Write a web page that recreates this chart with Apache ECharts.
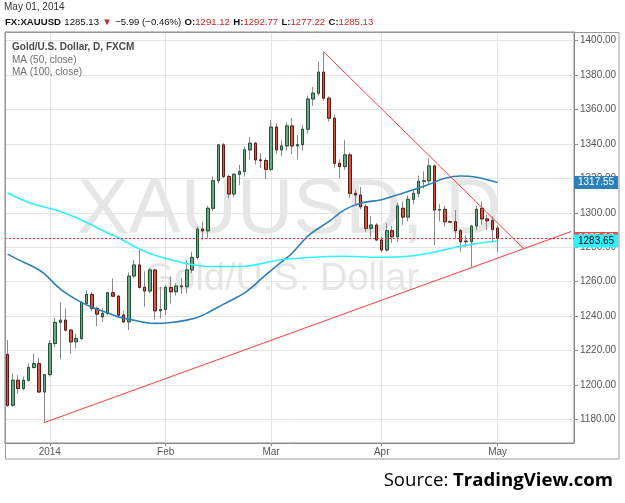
<!DOCTYPE html>
<html>
<head>
<meta charset="utf-8">
<script src="https://cdn.jsdelivr.net/npm/echarts@6/dist/echarts.min.js"></script>
<style>
  html, body { margin: 0; padding: 0; background: #fff; }
  #chart { width: 625px; height: 503px; }
</style>
</head>
<body>
<div id="chart"></div>
<script>
// daily bars, FXCM XAUUSD
var dates = [
  '2013-12-19','2013-12-20','2013-12-23','2013-12-24','2013-12-26','2013-12-27','2013-12-30','2013-12-31',
  '2014-01-02','2014-01-03','2014-01-06','2014-01-07','2014-01-08','2014-01-09','2014-01-10',
  '2014-01-13','2014-01-14','2014-01-15','2014-01-16','2014-01-17',
  '2014-01-20','2014-01-21','2014-01-22','2014-01-23','2014-01-24',
  '2014-01-27','2014-01-28','2014-01-29','2014-01-30','2014-01-31',
  '2014-02-03','2014-02-04','2014-02-05','2014-02-06','2014-02-07',
  '2014-02-10','2014-02-11','2014-02-12','2014-02-13','2014-02-14',
  '2014-02-17','2014-02-18','2014-02-19','2014-02-20','2014-02-21',
  '2014-02-24','2014-02-25','2014-02-26','2014-02-27','2014-02-28',
  '2014-03-03','2014-03-04','2014-03-05','2014-03-06','2014-03-07',
  '2014-03-10','2014-03-11','2014-03-12','2014-03-13','2014-03-14',
  '2014-03-17','2014-03-18','2014-03-19','2014-03-20','2014-03-21',
  '2014-03-24','2014-03-25','2014-03-26','2014-03-27','2014-03-28',
  '2014-03-31','2014-04-01','2014-04-02','2014-04-03','2014-04-04',
  '2014-04-07','2014-04-08','2014-04-09','2014-04-10','2014-04-11',
  '2014-04-14','2014-04-15','2014-04-16','2014-04-17','2014-04-18',
  '2014-04-21','2014-04-22','2014-04-23','2014-04-24','2014-04-25',
  '2014-04-28','2014-04-29','2014-04-30','2014-05-01'
];
// empty space to the right of the last bar
var futureDates = [
  '2014-05-02','2014-05-05','2014-05-06','2014-05-07','2014-05-08','2014-05-09',
  '2014-05-12','2014-05-13','2014-05-14','2014-05-15','2014-05-16',
  '2014-05-19','2014-05-20','2014-05-21'
];

var opens = [
  1217.8,1188.3,1202.8,1198.0,1202.8,1210.2,1212.5,1196.0,
  1206.1,1224.1,1236.4,1237.7,1231.9,1225.1,1227.0,
  1247.4,1252.6,1244.5,1239.6,1241.6,
  1253.6,1251.6,1240.6,1236.7,1263.3,
  1269.7,1256.7,1254.6,1266.8,1243.1,
  1243.9,1256.7,1254.2,1257.5,1257.1,
  1266.8,1274.1,1290.5,1289.5,1302.6,
  1318.6,1339.4,1321.0,1310.9,1322.3,
  1323.9,1336.5,1340.3,1330.7,1330.3,
  1325.2,1349.7,1336.5,1338.8,1350.4,
  1338.8,1339.5,1348.5,1366.0,1369.4,
  1381.6,1366.5,1354.9,1328.7,1326.8,
  1333.6,1311.3,1310.3,1303.5,1291.0,
  1292.9,1284.2,1278.4,1289.6,1286.1,
  1302.6,1297.5,1307.8,1311.3,1318.3,
  1318.5,1327.2,1301.6,1302.0,1294.8,
  1294.8,1289.6,1283.2,1283.2,1292.3,
  1302.6,1296.4,1295.4,1291.12
];
var highs = [
  1226.1,1206.7,1205.8,1205.0,1212.5,1218.3,1216.0,1206.5,
  1226.0,1239.0,1248.0,1244.5,1232.5,1229.9,1248.7,
  1255.1,1254.0,1245.5,1244.5,1254.2,
  1261.9,1252.5,1243.1,1265.4,1272.6,
  1278.4,1266.0,1268.0,1267.5,1257.1,
  1258.0,1262.9,1259.0,1262.0,1272.6,
  1277.4,1292.0,1295.0,1304.0,1321.0,
  1340.0,1340.5,1322.0,1323.0,1327.8,
  1338.4,1343.9,1341.0,1334.6,1332.0,
  1353.9,1352.0,1342.0,1352.5,1355.0,
  1345.0,1351.0,1368.0,1373.0,1387.8,
  1393.2,1367.5,1357.0,1331.0,1342.3,
  1335.0,1313.5,1315.0,1305.0,1298.0,
  1294.0,1286.0,1294.0,1292.5,1306.0,
  1306.5,1310.0,1313.0,1321.5,1324.0,
  1331.5,1328.0,1305.0,1304.0,1295.5,
  1301.6,1290.5,1287.0,1293.0,1304.0,
  1306.5,1299.0,1298.0,1292.77
];
var lows = [
  1187.3,1187.3,1195.1,1197.0,1202.0,1209.6,1195.5,1178.0,
  1205.0,1222.0,1215.0,1231.0,1218.3,1221.2,1226.0,
  1247.0,1243.0,1234.2,1236.7,1240.5,
  1251.0,1240.0,1236.2,1231.9,1262.0,
  1256.0,1245.5,1253.5,1238.1,1238.7,
  1240.6,1247.4,1252.0,1253.0,1253.2,
  1265.0,1273.0,1284.0,1285.0,1301.0,
  1317.0,1320.0,1308.4,1309.0,1316.0,
  1321.0,1330.7,1328.0,1325.8,1319.5,
  1324.0,1334.0,1333.0,1336.0,1334.0,
  1331.0,1336.0,1346.0,1362.0,1368.0,
  1365.0,1353.0,1326.0,1320.0,1325.0,
  1308.4,1305.0,1302.0,1289.0,1286.0,
  1283.5,1277.0,1277.5,1282.5,1283.0,
  1293.0,1295.0,1305.0,1309.0,1314.0,
  1316.0,1281.3,1295.0,1292.0,1294.0,
  1285.0,1277.5,1280.0,1268.7,1290.0,
  1293.0,1290.0,1283.0,1277.22
];
var closes = [
  1188.3,1202.8,1198.0,1202.8,1210.2,1212.5,1196.0,1206.1,
  1224.1,1236.4,1237.7,1231.9,1225.1,1227.0,1248.0,
  1252.6,1244.5,1241.2,1241.6,1253.6,
  1251.6,1240.6,1236.7,1263.3,1269.7,
  1256.7,1254.6,1266.8,1243.1,1243.9,
  1256.7,1254.2,1257.5,1257.1,1266.8,
  1274.1,1290.5,1289.5,1302.6,1318.6,
  1339.4,1321.0,1310.9,1322.3,1323.9,
  1336.5,1340.3,1330.7,1330.3,1325.2,
  1349.7,1336.5,1338.8,1350.4,1338.8,
  1339.5,1348.5,1366.0,1369.4,1381.6,
  1366.5,1354.9,1328.7,1326.8,1333.6,
  1311.3,1310.3,1303.5,1291.0,1292.9,
  1284.2,1278.4,1289.6,1286.1,1304.0,
  1297.5,1307.8,1311.3,1318.3,1318.5,
  1327.2,1301.6,1301.8,1294.8,1294.6,
  1289.6,1283.2,1283.6,1292.3,1302.0,
  1296.4,1295.4,1290.4,1285.13
];

// moving averages: [bar index, value]
var ma50 = [
  [0,1276.0],[2,1272.8],[5,1268.5],[7,1264.5],[9,1258.5],[11,1253.5],[14,1248.0],
  [16,1245.2],[19,1241.8],[21,1239.6],[24,1237.6],[26,1236.4],[28,1235.8],[31,1236.3],
  [34,1237.7],[36,1239.2],[38,1242.0],[41,1247.0],[45,1253.5],[47,1258.5],[49,1264.0],
  [52,1271.5],[54,1276.5],[57,1286.5],[61,1295.0],[64,1301.8],[67,1305.5],[71,1307.6],
  [73,1309.4],[76,1312.3],[80,1316.5],[83,1320.0],[86,1321.3],[89,1320.6],[93,1317.55]
];
var ma100 = [
  [0,1311.5],[4,1306.0],[10,1300.7],[14,1295.8],[19,1288.3],[21,1285.5],[25,1279.0],
  [29,1274.3],[34,1270.5],[38,1268.8],[45,1269.0],[51,1272.3],[57,1274.0],[64,1274.8],
  [70,1274.2],[76,1274.8],[80,1276.5],[83,1278.6],[86,1280.6],[89,1282.2],[93,1283.65]
];

// hand drawn trend lines: [bar index, price]
var supportLine = [[7,1178.3],[107,1289.2]];
var resistanceLine = [[60,1393.3],[98,1279.0]];

var tickDates = ['2014-01-02','2014-02-03','2014-03-03','2014-04-01','2014-05-01'];
var tickLabels = ['2014','Feb','Mar','Apr','May'];

var lastClose = 1285.13;
var lastMa50 = 1317.55;
var lastMa100 = 1283.65;

var FONT = "'Liberation Sans', Arial, sans-serif";

var allDates = dates.concat(futureDates);
var wickData = [];
var bodyData = [];
for (var i = 0; i < dates.length; i++) {
  wickData.push([opens[i], closes[i], lows[i], highs[i]]);
  bodyData.push([opens[i], closes[i], Math.min(opens[i], closes[i]), Math.max(opens[i], closes[i])]);
}

function isTick(index, value) {
  return tickDates.indexOf(value) >= 0;
}

// price tag on the right axis, no visible line
function priceLabel(value, bg, fg) {
  return {
    silent: true,
    symbol: 'none',
    lineStyle: { color: 'rgba(0,0,0,0)', width: 1, opacity: 1 },
    data: [{ yAxis: value }],
    label: {
      show: true, position: 'end', distance: 0, opacity: 1,
      formatter: value.toFixed(2),
      backgroundColor: bg, color: fg,
      fontFamily: FONT, fontSize: 10, lineHeight: 11,
      padding: [1, 4, 1, 4]
    }
  };
}

var chart = echarts.init(document.getElementById('chart'), null, { renderer: 'canvas' });

var last = dates.length - 1;

chart.setOption({
  animation: false,
  backgroundColor: '#ffffff',
  textStyle: { fontFamily: FONT },
  grid: {
    left: 5, right: 51, top: 32, bottom: 60,
    show: true, borderColor: '#8a8a8a', borderWidth: 1,
    containLabel: false, outerBoundsMode: 'none'
  },
  xAxis: {
    type: 'category',
    data: allDates,
    boundaryGap: true,
    axisLine: { show: true, lineStyle: { color: '#8a8a8a' } },
    axisTick: { show: true, alignWithLabel: true, interval: isTick, length: 3, lineStyle: { color: '#8a8a8a' } },
    axisLabel: {
      interval: isTick, color: '#555', fontSize: 10, margin: 4, fontFamily: FONT,
      formatter: function (v) { var k = tickDates.indexOf(v); return k >= 0 ? tickLabels[k] : ''; }
    },
    splitLine: { show: true, interval: isTick, alignWithLabel: true, lineStyle: { color: '#e4e4e4' } }
  },
  yAxis: {
    type: 'value',
    position: 'right',
    min: 1166.4, max: 1404.9,
    splitNumber: 12,
    axisLine: { show: true, lineStyle: { color: '#8a8a8a' } },
    axisTick: { show: true, length: 4, lineStyle: { color: '#8a8a8a' } },
    axisLabel: {
      color: '#555', fontSize: 10, margin: 6, fontFamily: FONT,
      showMinLabel: false, showMaxLabel: false,
      formatter: function (v) { return Math.abs(v / 20 - Math.round(v / 20)) < 1e-6 ? v.toFixed(2) : ''; }
    },
    splitLine: { show: true, lineStyle: { color: '#e4e4e4' } }
  },
  graphic: [
    { type: 'text', x: 289, y: 211, z: 1, silent: true,
      style: { text: 'XAUUSD, D', fill: '#e6e6e6', font: '78px ' + FONT, align: 'center', verticalAlign: 'middle' } },
    { type: 'text', x: 282, y: 280, z: 1, silent: true,
      style: { text: 'Gold/U.S. Dollar', fill: '#e6e6e6', font: '38px ' + FONT, align: 'center', verticalAlign: 'middle' } },
    { type: 'text', x: 4, y: 7.5, silent: true,
      style: { text: 'May 01, 2014', fill: '#333', font: '10px ' + FONT, verticalAlign: 'middle' } },
    { type: 'text', x: 5, y: 22.5, silent: true,
      style: {
        text: '{b|FX:XAUUSD} {n|' + closes[last] + '} {r|\u25BC} {n|\u22125.99 (\u22120.46%)} {b|O:}{r|' + opens[last] +
          '} {b|H:}{r|' + highs[last] + '} {b|L:}{r|' + lows[last] + '} {b|C:}{r|' + closes[last] + '}',
        verticalAlign: 'middle',
        rich: {
          b: { fontFamily: FONT, fontSize: 9.6, fontWeight: 'bold', fill: '#111' },
          n: { fontFamily: FONT, fontSize: 9.6, fill: '#111' },
          r: { fontFamily: FONT, fontSize: 9.6, fill: '#c62828' }
        }
      } },
    { type: 'text', x: 12, y: 47, z: 5, silent: true,
      style: { text: 'Gold/U.S. Dollar, D, FXCM', fill: '#4a4a4a', font: 'bold 10px ' + FONT, verticalAlign: 'middle' } },
    { type: 'text', x: 12, y: 60, z: 5, silent: true,
      style: { text: 'MA (50, close)', fill: '#6f6f6f', font: '10px ' + FONT, verticalAlign: 'middle' } },
    { type: 'text', x: 12, y: 72, z: 5, silent: true,
      style: { text: 'MA (100, close)', fill: '#6f6f6f', font: '10px ' + FONT, verticalAlign: 'middle' } },
    { type: 'rect', silent: true, z: 10,
      shape: { x: 5.5, y: 32.5, width: 613.5, height: 426.5 },
      style: { fill: null, stroke: '#9a9a9a', lineWidth: 1 } },
    { type: 'text', x: 613, y: 481, silent: true,
      style: {
        text: '{n|Source: }{b|TradingView.com}', align: 'right', verticalAlign: 'middle',
        rich: {
          n: { fontFamily: "'Open Sans', sans-serif", fontSize: 18.6, fill: '#000' },
          b: { fontFamily: "'Open Sans', sans-serif", fontSize: 18.6, fontWeight: 'bold', fill: '#000' }
        }
      } }
  ],
  series: [
    {
      name: 'wicks', type: 'candlestick', data: wickData, barWidth: 3, z: 2,
      itemStyle: { color: '#8a8a8a', color0: '#8a8a8a', borderColor: '#8a8a8a', borderColor0: '#8a8a8a', borderWidth: 1 }
    },
    {
      name: 'bodies', type: 'candlestick', data: bodyData, barWidth: 3, z: 2,
      itemStyle: { color: '#6ba583', color0: '#d75442', borderColor: '#225437', borderColor0: '#5b1a13', borderWidth: 1 },
      markLine: {
        silent: true, symbol: 'none',
        lineStyle: { type: [2, 2], color: '#ff2a2a', width: 1, opacity: 1 },
        data: [{ yAxis: lastClose }],
        label: {
          show: true, position: 'end', distance: 0, formatter: lastClose.toFixed(2),
          backgroundColor: '#d9534f', color: '#fff', fontFamily: FONT, fontSize: 10, lineHeight: 11,
          padding: [1, 4, 1, 4]
        }
      }
    },
    {
      name: 'MA50', type: 'line', data: ma50, smooth: 0.35, symbol: 'none', z: 3,
      lineStyle: { color: '#2c7fb8', width: 1.6 },
      markLine: priceLabel(lastMa50, '#2c7fb8', '#fff')
    },
    {
      name: 'MA100', type: 'line', data: ma100, smooth: 0.35, symbol: 'none', z: 4,
      lineStyle: { color: '#2ef2ff', width: 1.6 },
      markLine: priceLabel(lastMa100, '#2ef2ff', '#000')
    },
    {
      name: 'support', type: 'line', data: supportLine, symbol: 'none', z: 5,
      lineStyle: { color: '#ff3b3b', width: 1 }
    },
    {
      name: 'resistance', type: 'line', data: resistanceLine, symbol: 'none', z: 5,
      lineStyle: { color: '#ff3b3b', width: 1 }
    }
  ]
});
</script>
</body>
</html>
